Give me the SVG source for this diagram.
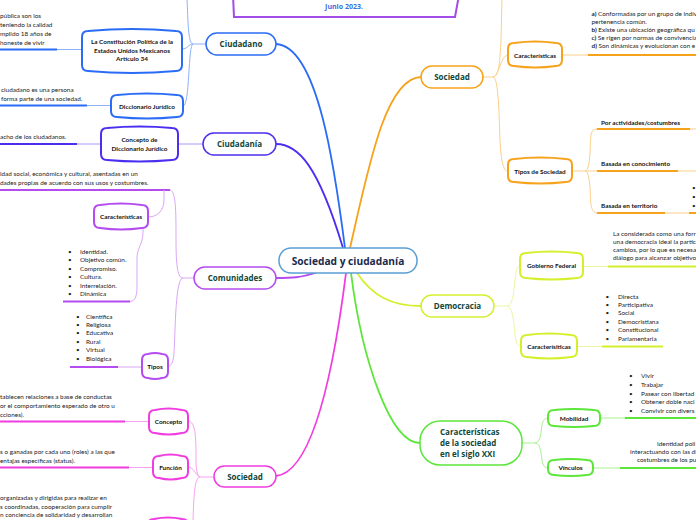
<svg xmlns="http://www.w3.org/2000/svg" width="696" height="520" viewBox="0 0 696 520">
<style>
.mc{fill:none;stroke-width:1.8}
.sc{fill:none;stroke-width:1}
.ul{fill:none;stroke-width:2}
.t{font-family:Lato,"Open Sans",sans-serif;font-size:6.4px;fill:#222}
.tb{font-family:Lato,"Open Sans",sans-serif;font-size:6.4px;font-weight:bold;fill:#111}
.nb{font-family:Lato,"Open Sans",sans-serif;font-size:6.4px;font-weight:bold;fill:#111;text-anchor:middle}
.mn{font-family:"Open Sans",sans-serif;font-size:8px;font-weight:bold;fill:#12473a;text-anchor:middle}
.mnode{fill:#fff;stroke-width:1.5}
.cnode{fill:#fff;stroke-width:2}
.blue{stroke:#2b6cf6}.lblue{stroke:#8fb0f8}
.ind{stroke:#4b2ff0}.lind{stroke:#a898f8}
.pur{stroke:#b44cf0}.lpur{stroke:#d9a6f7}
.pink{stroke:#f03ce0}.lpink{stroke:#f8a3ef}
.org{stroke:#f7a21b}.lorg{stroke:#fbd08c}
.yel{stroke:#d6ef2c}.lyel{stroke:#ebf7a0}
.grn{stroke:#5ce63a}.lgrn{stroke:#a8f090}
</style>

<g id="connectors">
  <path class="mc blue" d="M345,248 C335,170 318,46 276,44"/>
  <path class="mc ind" d="M343,248 C318,165 298,144 276,144"/>
  <path class="mc org" d="M350,248 C368,170 385,78 421,77"/>
  <path class="mc pur" d="M318,272 C300,278 292,278 276,278"/>
  <path class="mc yel" d="M357,273 C372,295 390,306 421,306"/>
  <path class="mc pink" d="M346,273 C335,360 315,472 276,476"/>
  <path class="mc grn" d="M351,273 C362,360 390,443 420,443"/>

  <path class="sc lblue" d="M206,44 L193,44"/>
  <path class="sc lblue" d="M193,44 C188,44 188,20 187,-2"/>
  <path class="sc lblue" d="M193,44 C188,44 188,49 182,49"/>
  <path class="sc lblue" d="M193,44 C188,44 190,106 183,106"/>
  <path class="ul blue" d="M0,49.5 L57,49.5"/>
  <path class="sc lblue" d="M57,49.5 L82,49.5"/>
  <path class="ul blue" d="M0,105.5 L87,105.5"/>
  <path class="sc lblue" d="M87,105.5 L111,105.5"/>

  <path class="sc lind" d="M203,144 L178,144"/>
  <path class="ul ind" d="M0,144 L77,144"/>
  <path class="sc lind" d="M77,144 L101,144"/>

  <path class="sc lpur" d="M183,278 L194,278"/>
  <path class="ul pur" d="M0,190 L170,190"/>
  <path class="sc lpur" d="M170,190 C176,192 176,210 176,240 C176,268 178,278 183,278"/>
  <path class="sc lpur" d="M148,217 C156,217 164,212 164,200 L164,190"/>
  <path class="ul pur" d="M63,301.5 L130,301.5"/>
  <path class="sc lpur" d="M130,301.5 C136,301 137,295 137,285 L137,258 C137,248 143,244 143,232 L143,228"/>
  <path class="ul pur" d="M70,367 L118,367"/>
  <path class="sc lpur" d="M118,367 L142,367"/>
  <path class="sc lpur" d="M168,366 C175,366 174,350 175,330 C176,300 178,278 183,278"/>

  <path class="sc lpink" d="M200,477 L214,477"/>
  <path class="sc lpink" d="M188,421 C196,421 196,440 196,460 C196,472 198,477 200,477"/>
  <path class="sc lpink" d="M188,467 C194,467 196,476 200,477"/>
  <path class="sc lpink" d="M200,477 C195,478 194,490 193,520"/>
  <path class="ul pink" d="M0,421.5 L125,421.5"/>
  <path class="sc lpink" d="M125,421.5 L149,421.5"/>
  <path class="ul pink" d="M0,467.5 L129,467.5"/>
  <path class="sc lpink" d="M129,467.5 L153,467.5"/>

  <path class="sc lorg" d="M483,77 L493,77"/>
  <path class="sc lorg" d="M493,77 C499,77 500,60 501,40 L502,-2"/>
  <path class="sc lorg" d="M493,77 C499,77 500,56 508,55"/>
  <path class="sc lorg" d="M493,77 C499,77 499,120 500,140 C501,160 503,171 508,171"/>
  <path class="sc lorg" d="M562,55 L588,55"/>
  <path class="ul org" d="M588,55 L696,55"/>
  <path class="sc lorg" d="M572,171 L585,171"/>
  <path class="sc lorg" d="M585,171 C591,171 590,140 591,135 C592,130 594,129 597,129"/>
  <path class="sc lorg" d="M585,171 L597,171"/>
  <path class="sc lorg" d="M585,171 C591,171 590,200 591,205 C592,210 594,213 597,213"/>
  <path class="ul org" d="M597,129 L690,129"/>
  <path class="sc lorg" d="M690,129 L696,129"/>
  <path class="ul org" d="M597,171 L678,171"/>
  <path class="sc lorg" d="M678,171 L696,171"/>
  <path class="ul org" d="M597,213 L665,213"/>
  <path class="sc lorg" d="M665,213 L689,213"/>
  <path class="ul org" d="M689,213 L696,213"/>

  <path class="sc lyel" d="M494,306 L507,306"/>
  <path class="sc lyel" d="M507,306 C513,306 514,290 515,280 C516,270 517,266 520,266"/>
  <path class="sc lyel" d="M507,306 C513,306 514,325 515,335 C516,343 518,346 521,346"/>
  <path class="sc lyel" d="M583,266.5 L608,266.5"/>
  <path class="ul yel" d="M608,266.5 L696,266.5"/>
  <path class="sc lyel" d="M577,346.5 L602,346.5"/>
  <path class="ul yel" d="M602,346.5 L663,346.5"/>

  <path class="sc lgrn" d="M522,443 L535,443"/>
  <path class="sc lgrn" d="M535,443 C541,443 541,430 542,425 C543,420 545,418 548,418"/>
  <path class="sc lgrn" d="M535,443 C541,443 541,455 542,460 C543,466 545,468 548,468"/>
  <path class="sc lgrn" d="M600,418 L625,418"/>
  <path class="ul grn" d="M625,418 L696,418"/>
  <path class="sc lgrn" d="M593,468 L620,468"/>
  <path class="ul grn" d="M620,468 L696,468"/>
</g>

<g id="title-box">
  <path d="M233,-5 L234,17 L455,17 L459,-5" fill="#fff" stroke="#a44ce8" stroke-width="2"/>
  <text x="344" y="9" font-family="'Open Sans',sans-serif" font-size="7px" font-weight="bold" fill="#3a6fe0" text-anchor="middle">Junio 2023.</text>
</g>

<g id="center">
  <rect x="279" y="248" width="138" height="25" rx="12" fill="#fff" stroke="#5a9fd4" stroke-width="1.5"/>
  <text x="348" y="264.5" font-family="'Open Sans',sans-serif" font-size="10.2px" font-weight="bold" fill="#1a2a4a" text-anchor="middle">Sociedad y ciudadanía</text>
</g>

<g id="ciudadano">
  <rect class="mnode blue" x="206" y="33" width="70" height="22" rx="11"/>
  <text class="mn" x="241" y="47">Ciudadano</text>
</g>
<g id="constitucion">
  <path class="cnode blue" d="M88,31 Q132,27 176,31 Q182,31 182,37 V65 Q182,71 176,71 Q132,75 88,71 Q82,71 82,65 V37 Q82,31 88,31 Z"/>
  <text class="nb" x="132" y="44">La Constitución Política de la</text>
  <text class="nb" x="132" y="52.5">Estados Unidos Mexicanos</text>
  <text class="nb" x="132" y="61">Artículo 34</text>
  <text class="t" x="0" y="18">pública son los</text>
  <text class="t" x="0" y="27">teniendo la calidad</text>
  <text class="t" x="0" y="36">mplido 18 años de</text>
  <text class="t" x="0" y="44.5">honeste de vivir</text>
</g>
<g id="diccionario">
  <path class="cnode blue" d="M117,95 Q147,92 177,95 Q183,95 183,101 V111 Q183,117 177,117 Q147,120 117,117 Q111,117 111,111 V101 Q111,95 117,95 Z"/>
  <text class="nb" x="147" y="108.5">Diccionario Jurídico</text>
  <text class="t" x="1" y="92">ciudadano es una persona</text>
  <text class="t" x="1" y="100.5">forma parte de una sociedad.</text>
</g>

<g id="ciudadania">
  <rect class="mnode ind" x="203" y="133" width="73" height="22" rx="11"/>
  <text class="mn" x="239.5" y="147">Ciudadanía</text>
</g>
<g id="concepto-dicc">
  <path class="cnode ind" d="M107,128 Q139.5,125 172,128 Q178,128 178,134 V154 Q178,160 172,160 Q139.5,163 107,160 Q101,160 101,154 V134 Q101,128 107,128 Z"/>
  <text class="nb" x="139.5" y="142">Concepto de</text>
  <text class="nb" x="139.5" y="151">Diccionario Jurídico</text>
  <text class="t" x="0" y="138.5">acho de los ciudadanos.</text>
</g>

<g id="comunidades">
  <rect class="mnode pur" x="194" y="267" width="82" height="22" rx="11"/>
  <text class="mn" x="235" y="281">Comunidades</text>
  <text class="t" x="0" y="175.5">idad social, económica y cultural, asentadas en un</text>
  <text class="t" x="0" y="184.5">dades propias de acuerdo con sus usos y costumbres.</text>
</g>
<g id="com-caracteristicas">
  <path class="cnode pur" d="M100,205 Q121,202 142,205 Q148,205 148,211 V222 Q148,228 142,228 Q121,231 100,228 Q94,228 94,222 V211 Q94,205 100,205 Z"/>
  <text class="nb" x="121" y="219">Características</text>
  <text class="t" x="68" y="253.5">•</text><text class="t" x="80" y="253.5">Identidad.</text>
  <text class="t" x="68" y="262">•</text><text class="t" x="80" y="262">Objetivo común.</text>
  <text class="t" x="68" y="271">•</text><text class="t" x="80" y="271">Compromiso.</text>
  <text class="t" x="68" y="279">•</text><text class="t" x="80" y="279">Cultura.</text>
  <text class="t" x="68" y="287.5">•</text><text class="t" x="80" y="287.5">Interrelación.</text>
  <text class="t" x="68" y="295.5">•</text><text class="t" x="80" y="295.5">Dinámica</text>
</g>
<g id="com-tipos">
  <path class="cnode pur" d="M148,354 Q155,352 162,354 Q168,354 168,360 V372 Q168,378 162,378 Q155,380 148,378 Q142,378 142,372 V360 Q142,354 148,354 Z"/>
  <text class="nb" x="155" y="369">Tipos</text>
  <text class="t" x="76" y="318.7">•</text><text class="t" x="86" y="318.7">Científica</text>
  <text class="t" x="76" y="327">•</text><text class="t" x="86" y="327">Religiosa</text>
  <text class="t" x="76" y="335.3">•</text><text class="t" x="86" y="335.3">Educativa</text>
  <text class="t" x="76" y="343.7">•</text><text class="t" x="86" y="343.7">Rural</text>
  <text class="t" x="76" y="352.3">•</text><text class="t" x="86" y="352.3">Virtual</text>
  <text class="t" x="76" y="360.7">•</text><text class="t" x="86" y="360.7">Biológica</text>
</g>

<g id="sociedad-pink">
  <rect class="mnode pink" x="214" y="466" width="62" height="21" rx="10.5"/>
  <text class="mn" x="245" y="479.5">Sociedad</text>
</g>
<g id="concepto">
  <path class="cnode pink" d="M155,410 Q168.5,407 182,410 Q188,410 188,416 V427 Q188,433 182,433 Q168.5,436 155,433 Q149,433 149,427 V416 Q149,410 155,410 Z"/>
  <text class="nb" x="168.5" y="423.5">Concepto</text>
  <text class="t" x="0" y="399">tablecen relaciones a base de conductas</text>
  <text class="t" x="0" y="408">or el comportamiento esperado de otro u</text>
  <text class="t" x="0" y="416.5">cciones).</text>
</g>
<g id="funcion">
  <path class="cnode pink" d="M159,456 Q170.5,453 182,456 Q188,456 188,462 V472 Q188,478 182,478 Q170.5,481 159,478 Q153,478 153,472 V462 Q153,456 159,456 Z"/>
  <text class="nb" x="170.5" y="469.5">Función</text>
  <text class="t" x="0" y="454">s o ganadas por cada uno (roles) a las que</text>
  <text class="t" x="0" y="462.5">entajas específicas (status).</text>
</g>
<g id="pink-third">
  <path class="cnode pink" d="M154,519 Q168,516 182,519 Q188,519 188,525 V535 Q168,538 154,535 Q148,535 148,529 V525 Q148,519 154,519 Z"/>
  <text class="t" x="0" y="500">organizadas y dirigidas para realizar en</text>
  <text class="t" x="0" y="508.5">s coordinadas, cooperación para cumplir</text>
  <text class="t" x="0" y="517">n conciencia de solidaridad y desarrollan</text>
</g>

<g id="sociedad-orange">
  <rect class="mnode org" x="421" y="66" width="62" height="22" rx="11"/>
  <text class="mn" x="452" y="80">Sociedad</text>
</g>
<g id="soc-caracteristicas">
  <path class="cnode org" d="M514,43 Q535,40 556,43 Q562,43 562,49 V60 Q562,66 556,66 Q535,69 514,66 Q508,66 508,60 V49 Q508,43 514,43 Z"/>
  <text class="nb" x="535" y="57.5">Características</text>
  <text class="t" x="591.5" y="16"><tspan font-weight="bold">a)</tspan> Conformadas por un grupo de indiv</text>
  <text class="t" x="591.5" y="24">pertenencia común.</text>
  <text class="t" x="591.5" y="32"><tspan font-weight="bold">b)</tspan> Existe una ubicación geográfica qu</text>
  <text class="t" x="591.5" y="40"><tspan font-weight="bold">c)</tspan> Se rigen por normas de convivencia</text>
  <text class="t" x="591.5" y="48"><tspan font-weight="bold">d)</tspan> Son dinámicas y evolucionan con e</text>
</g>
<g id="tipos-sociedad">
  <path class="cnode org" d="M514,159 Q540,156 566,159 Q572,159 572,165 V176 Q572,182 566,182 Q540,185 514,182 Q508,182 508,176 V165 Q508,159 514,159 Z"/>
  <text class="nb" x="540" y="173.5">Tipos de Sociedad</text>
  <text class="tb" x="601" y="124.5">Por actividades/costumbres</text>
  <text class="tb" x="601" y="165.5">Basada en conocimiento</text>
  <text class="tb" x="601" y="208">Basada en territorio</text>
  <text class="t" x="692" y="190">•</text>
  <text class="t" x="692" y="199">•</text>
  <text class="t" x="692" y="208">•</text>
</g>

<g id="democracia">
  <rect class="mnode yel" x="421" y="295" width="73" height="22" rx="11"/>
  <text class="mn" x="457.5" y="309">Democracia</text>
</g>
<g id="gobierno-federal">
  <path class="cnode yel" d="M526,253 Q551.5,250 577,253 Q583,253 583,259 V272 Q583,278 577,278 Q551.5,281 526,278 Q520,278 520,272 V259 Q520,253 526,253 Z"/>
  <text class="nb" x="551.5" y="268">Gobierno Federal</text>
  <text class="t" x="613" y="236">La considerada como una forr</text>
  <text class="t" x="613" y="244">una democracia ideal la partic</text>
  <text class="t" x="613" y="252">cambios, por lo que es necesa</text>
  <text class="t" x="613" y="260">diálogo para alcanzar objetivo</text>
</g>
<g id="dem-caracteristicas">
  <path class="cnode yel" d="M527,335 Q549,332 571,335 Q577,335 577,341 V351 Q577,357 571,357 Q549,360 527,357 Q521,357 521,351 V341 Q521,335 527,335 Z"/>
  <text class="nb" x="549" y="348.5">Caracterísiticas</text>
  <text class="t" x="605.5" y="298.7">•</text><text class="t" x="618" y="298.7">Directa</text>
  <text class="t" x="605.5" y="307">•</text><text class="t" x="618" y="307">Participativa</text>
  <text class="t" x="605.5" y="315.3">•</text><text class="t" x="618" y="315.3">Social</text>
  <text class="t" x="605.5" y="323.7">•</text><text class="t" x="618" y="323.7">Democristiana</text>
  <text class="t" x="605.5" y="332.3">•</text><text class="t" x="618" y="332.3">Constitucional</text>
  <text class="t" x="605.5" y="340.7">•</text><text class="t" x="618" y="340.7">Parlamentaria</text>
</g>

<g id="siglo-xxi">
  <rect class="mnode grn" x="420" y="421" width="102" height="44" rx="20"/>
  <text font-family="'Open Sans',sans-serif" font-size="8px" font-weight="bold" fill="#12473a">
    <tspan x="440" y="434.5">Características</tspan>
    <tspan x="440" y="446">de la sociedad</tspan>
    <tspan x="440" y="457">en el siglo XXI</tspan>
  </text>
</g>
<g id="mobilidad">
  <path class="cnode grn" d="M554,410 Q574,408 594,410 Q600,410 600,416 V420 Q600,426 594,426 Q574,428 554,426 Q548,426 548,420 V416 Q548,410 554,410 Z"/>
  <text class="nb" x="574" y="420.5">Mobilidad</text>
  <text class="t" x="629" y="378">•</text><text class="t" x="641" y="378">Vivir</text>
  <text class="t" x="629" y="387">•</text><text class="t" x="641" y="387">Trabajar</text>
  <text class="t" x="629" y="395.7">•</text><text class="t" x="641" y="395.7">Pasear con libertad</text>
  <text class="t" x="629" y="404.3">•</text><text class="t" x="641" y="404.3">Obtener doble naci</text>
  <text class="t" x="629" y="413">•</text><text class="t" x="641" y="413">Convivir con divers</text>
</g>
<g id="vinculos">
  <path class="cnode grn" d="M554,460 Q570.5,458 587,460 Q593,460 593,466 V469 Q593,475 587,475 Q570.5,477 554,475 Q548,475 548,469 V466 Q548,460 554,460 Z"/>
  <text class="nb" x="570.5" y="470">Vínculos</text>
  <text class="t" x="657" y="445.5">Identidad poli</text>
  <text class="t" x="630" y="453.5">interactuando con las di</text>
  <text class="t" x="637" y="462">costumbres de los pu</text>
</g>
</svg>
